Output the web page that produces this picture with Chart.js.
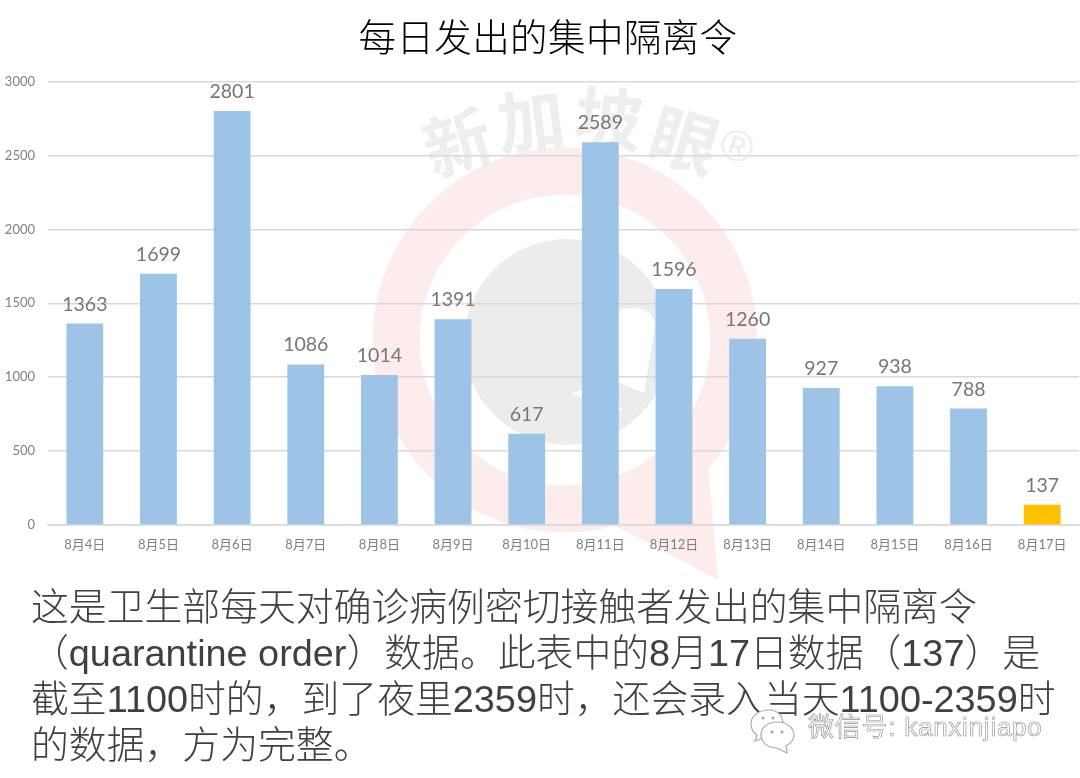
<!DOCTYPE html>
<html>
<head>
<meta charset="utf-8">
<script src="https://cdn.jsdelivr.net/npm/chart.js@4"></script>
<style>
  html, body { margin: 0; padding: 0; background: #fff; }
  body { width: 1080px; height: 778px; overflow: hidden; position: relative;
         font-family: "Liberation Sans", "Noto Sans CJK SC", sans-serif; }
  #mark, #line-chart { position: absolute; left: 0; top: 0; }
  #title { position: absolute; left: 0; top: 13px; width: 1096px; margin: 0; text-align: center;
           font-size: 37.5px; font-weight: 300; line-height: 50px; color: #000; letter-spacing: 0.4px; }
  .note { position: absolute; left: 31px; font-size: 37.85px; font-weight: 300; line-height: 46px; color: #404040; white-space: nowrap; }
  #wechat { position: absolute; left: 808px; top: 711px; font-size: 26px; line-height: 32px; color: #fff;
            letter-spacing: 0.75px; white-space: nowrap;
            -webkit-text-stroke: 0.6px #8c8c8c; }
</style>
</head>
<body>

<svg id="mark" width="1080" height="778">
  <path d="M708 462 L718 580 L612 524 Z" fill="#fcecec"/>
  <circle cx="565" cy="340" r="169" fill="none" stroke="#fcecec" stroke-width="47"/>
  <circle cx="567" cy="342" r="103" fill="#ececec"/>
  <path d="M612 312 Q650 300 655 325 L644 393 L612 380 Z" fill="#fff"/>
  <path d="M572 393 L600 385 L623 410 L610 412 Z" fill="#fff"/>
  <g font-family="Noto Sans CJK SC" font-weight="700" font-size="68" fill="#eeeeee" text-anchor="middle">
    <text transform="translate(465 167) rotate(-17)">新</text>
    <text transform="translate(534 146) rotate(-7)">加</text>
    <text transform="translate(606 144) rotate(6)">坡</text>
    <text transform="translate(677 165) rotate(17)">眼</text>
  </g>
  <text transform="translate(732 160) rotate(20)" font-family="Liberation Sans" font-size="44" fill="#eeeeee" text-anchor="middle">®</text>
</svg>

<canvas id="line-chart" width="1080" height="778"></canvas>

<h1 id="title">每日发出的集中隔离令</h1>
<div class="note" style="top:584px">这是卫生部每天对确诊病例密切接触者发出的集中隔离令</div>
<div class="note" style="top:630px">（quarantine order）数据。此表中的8月17日数据（137）是</div>
<div class="note" style="top:676px">截至1100时的，到了夜里2359时，还会录入当天1100-2359时</div>
<div class="note" style="top:722px">的数据，方为完整。</div>

<svg id="bubbles" width="60" height="50" style="position:absolute;left:745px;top:708px">
  <g fill="#fff" stroke="#aaa" stroke-width="1.2">
    <path d="M24 2 C12 2 6 9 6 16 C6 21 9 25 12 27 L10 33 L18 30 C30 32 38 26 38 16 C38 9 34 2 24 2 Z"/>
    <path d="M32 14 C22 14 16 20 16 27 C16 34 23 40 32 40 L42 45 L41 38 C46 35 49 31 49 27 C49 20 42 14 32 14 Z"/>
  </g>
  <g fill="#aaa"><circle cx="18" cy="10" r="1.6"/><circle cx="28" cy="10" r="1.6"/><circle cx="27" cy="24" r="1.6"/><circle cx="37" cy="24" r="1.6"/></g>
</svg>
<div id="wechat">微信号: kanxinjiapo</div>

<script>
const days = ['8月4日', '8月5日', '8月6日', '8月7日', '8月8日', '8月9日', '8月10日', '8月11日', '8月12日', '8月13日', '8月14日', '8月15日', '8月16日', '8月17日'];
const orders = [1363, 1699, 2801, 1086, 1014, 1391, 617, 2589, 1596, 1260, 927, 938, 788, 137];
const barColors = ['#9dc3e6', '#9dc3e6', '#9dc3e6', '#9dc3e6', '#9dc3e6', '#9dc3e6', '#9dc3e6', '#9dc3e6', '#9dc3e6', '#9dc3e6', '#9dc3e6', '#9dc3e6', '#9dc3e6', '#ffc000'];
const yTicks = [0, 500, 1000, 1500, 2000, 2500, 3000];

const tickFont = '"Lato", "Noto Sans CJK SC", sans-serif';

// numbers above the bars
const barValues = {
    id: 'barValues',
    afterDatasetsDraw(chart) {
        const ctx = chart.ctx;
        ctx.save();
        ctx.font = '19.5px Lato';
        ctx.fillStyle = '#767676';
        ctx.textAlign = 'center';
        ctx.textBaseline = 'alphabetic';
        chart.getDatasetMeta(0).data.forEach((bar, i) => {
            ctx.fillText(orders[i], bar.x, bar.y - 13);
        });
        ctx.restore();
    }
};

new Chart(document.getElementById('line-chart'), {
    type: 'bar',
    data: {
        labels: days,
        datasets: [{
            label: '集中隔离令',
            data: orders,
            backgroundColor: barColors,
            categoryPercentage: 0.5,
            barPercentage: 1
        }]
    },
    options: {
        responsive: false,
        animation: false,
        layout: { padding: { top: 81.5, left: 0, right: 1, bottom: 0 } },
        plugins: { legend: { display: false }, tooltip: { enabled: false } },
        scales: {
            x: {
                afterFit: (scale) => { scale.height = 253; },
                grid: { display: false },
                border: { color: '#d9d9d9', width: 1.5 },
                ticks: { color: '#7f7f7f', font: { family: tickFont, size: 13 }, padding: 4, maxRotation: 0, autoSkip: false }
            },
            y: {
                min: 0,
                max: 3000,
                afterFit: (scale) => { scale.width = 48; },
                afterBuildTicks: (scale) => { scale.ticks = yTicks.map(v => ({ value: v })); },
                grid: { color: '#d9d9d9', lineWidth: 1.5, drawTicks: false },
                border: { display: false },
                ticks: { color: '#7f7f7f', font: { family: tickFont, size: 13 }, padding: 13, callback: (v) => String(v) }
            }
        }
    },
    plugins: [barValues]
});
</script>
</body>
</html>
